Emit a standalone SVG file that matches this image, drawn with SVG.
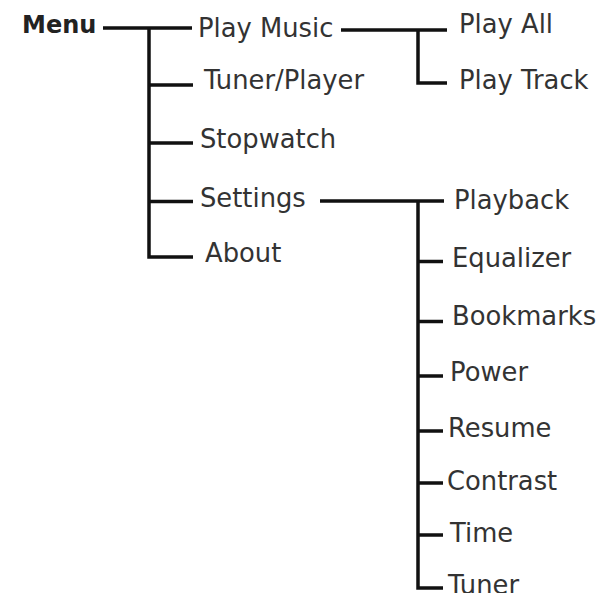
<svg xmlns="http://www.w3.org/2000/svg" width="599" height="593" viewBox="0 0 599 593">
<style>
text{font-family:"DejaVu Sans",Verdana,sans-serif;font-size:25.8px;fill:#333}
.b{font-weight:bold;font-size:24px;fill:#222}
.c{fill:none;stroke:#111;stroke-width:3.5}
</style>
<rect width="599" height="593" fill="#fff"/>
<g id="connectors" class="c">
<path d="M103 28H192M149 28V257H193M149 85H193M149 143H193M149 201.5H193"/>
<path d="M341 30H447M418 30V83H447"/>
<path d="M320 201H444M418 201V588H443M418 261.5H443M418 321.5H443M418 376H443M418 431H443M418 483H443M418 535H443"/>
</g>
<g id="menu"><text class="b" x="22" y="33">Menu</text></g>
<g id="play-music"><text x="198" y="37">Play Music</text></g>
<g id="tuner-player"><text x="204" y="89">Tuner/Player</text></g>
<g id="stopwatch"><text x="200" y="148">Stopwatch</text></g>
<g id="settings"><text x="200" y="206.5">Settings</text></g>
<g id="about"><text x="205" y="261.5">About</text></g>
<g id="play-all"><text x="459" y="33">Play All</text></g>
<g id="play-track"><text x="459" y="89">Play Track</text></g>
<g id="playback"><text x="454" y="209">Playback</text></g>
<g id="equalizer"><text x="452" y="267">Equalizer</text></g>
<g id="bookmarks"><text x="452" y="325">Bookmarks</text></g>
<g id="power"><text x="450" y="381">Power</text></g>
<g id="resume"><text x="448" y="437">Resume</text></g>
<g id="contrast"><text x="447" y="490">Contrast</text></g>
<g id="time"><text x="450" y="542">Time</text></g>
<g id="tuner"><text x="448" y="594">Tuner</text></g>
</svg>
